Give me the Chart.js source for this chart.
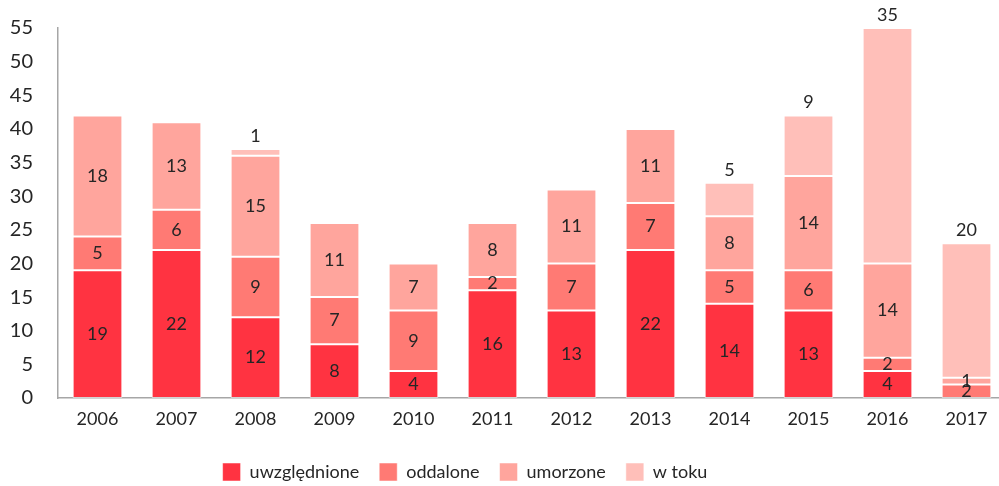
<!DOCTYPE html>
<html>
<head>
<meta charset="utf-8">
<script src="https://cdn.jsdelivr.net/npm/chart.js@4"></script>
<style>
  html, body { margin: 0; padding: 0; background: #fff; overflow: hidden; }
  #wrap { width: 1006px; height: 486px; }
</style>
</head>
<body>
<div id="wrap"><canvas id="wykres"></canvas></div>
<script>
var lata = ['2006', '2007', '2008', '2009', '2010', '2011', '2012', '2013', '2014', '2015', '2016', '2017'];
var uwzglednione = [19, 22, 12, 8, 4, 16, 13, 22, 14, 13, 4, 0];
var oddalone     = [5, 6, 9, 7, 9, 2, 7, 7, 5, 6, 2, 2];
var umorzone     = [18, 13, 15, 11, 7, 8, 11, 11, 8, 14, 14, 1];
var wToku        = [0, 0, 1, 0, 0, 0, 0, 0, 5, 9, 35, 20];
var osY = [0, 5, 10, 15, 20, 25, 30, 35, 40, 45, 50, 55];

const czcionka = 'Lato, "Open Sans", sans-serif';

// wartości na słupkach: środek segmentu, a "w toku" nad słupkiem
const etykiety = {
    id: 'etykiety',
    afterDatasetsDraw(chart) {
        const ctx = chart.ctx;
        ctx.save();
        ctx.font = '18px ' + czcionka;
        ctx.fillStyle = '#262626';
        ctx.textAlign = 'center';
        ctx.textBaseline = 'middle';
        chart.data.datasets.forEach((ds, i) => {
            const meta = chart.getDatasetMeta(i);
            meta.data.forEach((bar, j) => {
                const v = ds.data[j];
                if (!v) return;
                let y = (bar.y + bar.base) / 2;
                if (ds.label === 'w toku') y = bar.y - 13;
                ctx.fillText(String(v), bar.x, y);
            });
        });
        ctx.restore();
    }
};

// legenda niższa i przesunięta w lewo
const legendaPozycja = {
    id: 'legendaPozycja',
    beforeLayout(chart) {
        const lg = chart.legend;
        if (lg && !lg._poprawiona) {
            const fit = lg.fit.bind(lg);
            lg.fit = function () { fit(); this.height = 46; };
            lg._poprawiona = true;
        }
    },
    afterLayout(chart) {
        const lg = chart.legend;
        if (lg) {
            lg.left -= 42; lg.right -= 42;
            lg.top += 3; lg.bottom += 3;
        }
    }
};

function seria(label, data, kolor) {
    return {
        label: label,
        data: data,
        backgroundColor: kolor,
        borderColor: 'rgba(255,255,255,0.5)',
        borderWidth: 1,
        borderSkipped: false,
        categoryPercentage: 1,
        barPercentage: 0.63
    };
}

new Chart(document.getElementById('wykres'), {
    type: 'bar',
    data: {
        labels: lata,
        datasets: [
            seria('uwzględnione', uwzglednione, '#FF3341'),
            seria('oddalone', oddalone, '#FF7A74'),
            seria('umorzone', umorzone, '#FFA59D'),
            seria('w toku', wToku, '#FFBFB9')
        ]
    },
    options: {
        responsive: true,
        maintainAspectRatio: false,
        animation: false,
        layout: { padding: { top: 28, right: 0, left: 8, bottom: 0 } },
        scales: {
            x: {
                stacked: true,
                grid: { display: false, drawTicks: false },
                border: { display: true, color: '#A6A6A6', width: 1.5 },
                ticks: { color: '#262626', font: { family: czcionka, size: 18 }, padding: 10 },
                afterFit: function (axis) {
                    axis.height = 42;
                    axis.paddingLeft = 0; axis.paddingRight = 0;
                }
            },
            y: {
                stacked: true,
                min: 0,
                max: 55,
                afterBuildTicks: function (axis) {
                    axis.ticks = osY.map(v => ({ value: v }));
                },
                grid: { display: false, drawTicks: false },
                border: { display: true, color: '#A6A6A6', width: 1.5 },
                ticks: { color: '#262626', font: { family: czcionka, size: 20 }, padding: 25 },
                afterFit: function (axis) {
                    axis.width = 50;
                    axis.paddingTop = 0; axis.paddingBottom = 0;
                }
            }
        },
        plugins: {
            legend: {
                position: 'bottom',
                labels: {
                    color: '#262626',
                    font: { family: czcionka, size: 18 },
                    boxWidth: 18,
                    boxHeight: 18,
                    padding: 20
                }
            },
            tooltip: { enabled: false }
        }
    },
    plugins: [etykiety, legendaPozycja]
});
</script>
</body>
</html>
